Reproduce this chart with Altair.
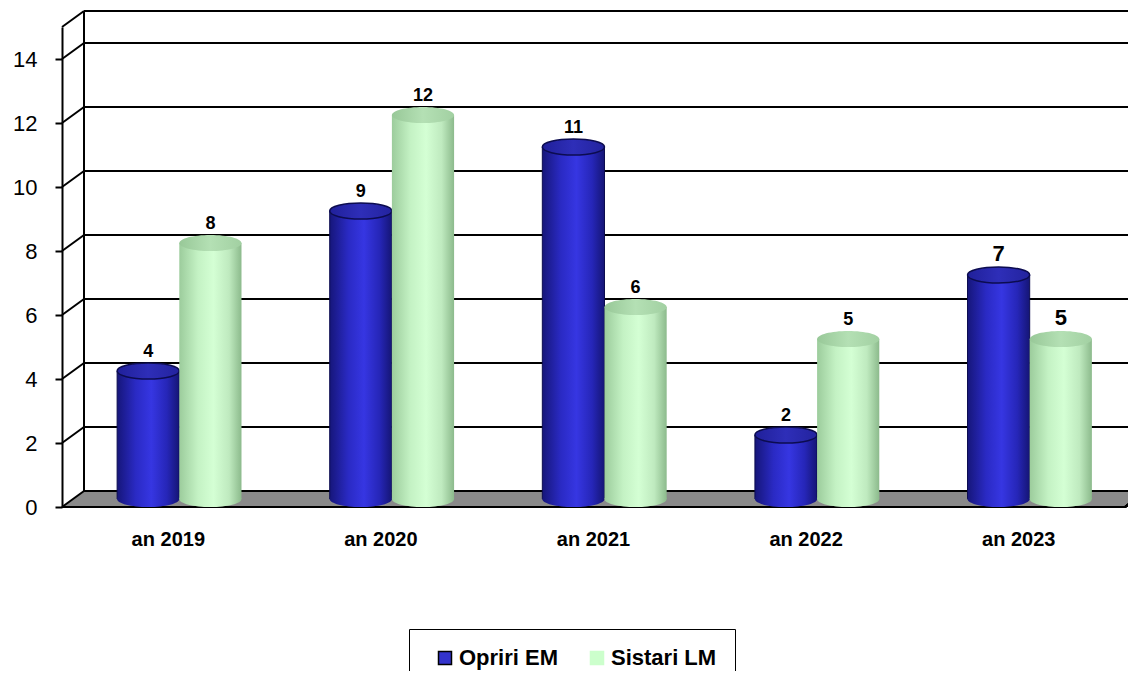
import altair as alt
import pandas as pd

# ---- data ----
years = ["an 2019", "an 2020", "an 2021", "an 2022", "an 2023"]
opriri = [4, 9, 11, 2, 7]
sistari = [8, 12, 6, 5, 5]
series = ["Opriri EM", "Sistari LM"]
y_ticks = [0, 2, 4, 6, 8, 10, 12, 14]
y_top = 15

# ---- layout constants ----
W, H = 1066, 480
FRONT_W = 1063
DX, DY = 22, 16           # 3D depth of the box
DY_UNITS = DY / (H / y_top)
FONT = "Liberation Sans, Arial, sans-serif"

df = pd.DataFrame({
    "year": years * 2,
    "series": [series[0]] * len(years) + [series[1]] * len(years),
    "value": opriri + sistari,
})
grid_df = pd.DataFrame({"level": y_ticks + [y_top]})
floor_df = pd.DataFrame({
    "fx": [0, DX, FRONT_W, FRONT_W + DX],
    "lo": [0, 0, 0, DY_UNITS],
    "hi": [0, DY_UNITS, DY_UNITS, DY_UNITS],
})

yscale = alt.Scale(domain=[0, y_top], nice=False, zero=True)
yaxis = alt.Axis(values=y_ticks, grid=False, domainColor="black", domainWidth=2,
                 tickColor="black", tickWidth=2, tickSize=7, labelFontSize=22,
                 labelFont=FONT, labelColor="black", labelPadding=18, title=None)


def Yf(field):
    return alt.Y(f"{field}:Q", scale=yscale, axis=yaxis, title=None)


def Yd(v):
    return alt.YDatum(v, scale=yscale, axis=yaxis, title=None, type="quantitative")


xscale = alt.Scale(domain=years, range=[DX / 2, FRONT_W + DX / 2],
                   paddingInner=0.415, paddingOuter=0.2075)
xaxis = alt.Axis(labelFontSize=20, labelFontWeight="bold", labelFont=FONT,
                 labelColor="black", domain=False, ticks=False, labelPadding=22,
                 labelOffset=-DX / 2, grid=False, labelAngle=0, title=None)
X_ENC = alt.X("year:N", scale=xscale, axis=xaxis, sort=years, title=None)
XOFF = alt.XOffset("series:N", scale=alt.Scale(domain=series, paddingInner=0, paddingOuter=0))


def grad(stops):
    return alt.LinearGradient(gradient="linear", x1=0, x2=1, y1=0, y2=0,
                              stops=[alt.GradientStop(color=c, offset=o) for c, o in stops])


blue_body = grad([("#16167a", 0), ("#2a2ac4", 0.3), ("#3636e2", 0.55), ("#2626b8", 0.8), ("#151575", 1)])
blue_top = grad([("#20209a", 0), ("#2e2eb8", 0.5), ("#23239e", 1)])
green_body = grad([("#9ccc9c", 0), ("#c4f2c4", 0.3), ("#d4ffd4", 0.55), ("#bfeabf", 0.8), ("#8cba8c", 1)])
green_top = grad([("#98c898", 0), ("#b4e0b4", 0.5), ("#a2d0a2", 1)])

# ellipse symbol (unit box -1..1)
ELL = "M-1,0A1,0.26,0,1,1,1,0A1,0.26,0,1,1,-1,0Z"
SUBW = (FRONT_W / 5) * (1 - 0.415) / 2
ESIZE = SUBW * SUBW

# ---- floor ----
floor = alt.Chart(floor_df).mark_area(color="#8a8a8a", orient="vertical").encode(
    x=alt.X("fx:Q", scale=alt.Scale(domain=[0, W], nice=False, zero=True), axis=None),
    y=Yf("lo"),
    y2=alt.Y2("hi"),
)

# ---- frame ----
back_lines = alt.Chart(grid_df).mark_rule(color="black", strokeWidth=2, yOffset=-DY).encode(
    y=Yf("level"), x=alt.value(DX), x2=alt.value(W))
diagonals = alt.Chart(grid_df).mark_rule(color="black", strokeWidth=2, y2Offset=-DY).encode(
    y=Yf("level"), y2=alt.Y2("level"), x=alt.value(0), x2=alt.value(DX))
back_vert = alt.Chart(grid_df).mark_rule(color="black", strokeWidth=2, yOffset=-DY, y2Offset=-DY).encode(
    y=Yd(0), y2=alt.Y2Datum(y_top), x=alt.value(DX))
front_edge = alt.Chart(grid_df).mark_rule(color="black", strokeWidth=2).encode(
    y=Yd(0), x=alt.value(0), x2=alt.value(FRONT_W))
right_slant = alt.Chart(grid_df).mark_rule(color="black", strokeWidth=2, y2Offset=-DY).encode(
    y=Yd(0), y2=alt.Y2Datum(0), x=alt.value(FRONT_W), x2=alt.value(FRONT_W + DX))

# ---- legend carrier (hidden behind bars) ----
leg = alt.Legend(title=" ", titleOrient="left", titleFontSize=1, titlePadding=7,
                 orient="none", legendX=409 - 62, legendY=629 - 27,
                 direction="horizontal", symbolType="square", symbolSize=169,
                 symbolStrokeWidth=1.5, symbolOpacity=1,
                 labelFontSize=22, labelFontWeight="bold", labelFont=FONT,
                 labelColor="black", labelOffset=3, columnPadding=27,
                 padding=18, strokeColor="black")
legend_layer = alt.Chart(df).mark_square(size=16, opacity=1, yOffset=-DY / 2).encode(
    x=X_ENC, xOffset=XOFF, y=Yd(0),
    color=alt.Color("series:N", scale=alt.Scale(domain=series, range=["#3333cc", "#ccffcc"]),
                    legend=leg),
    stroke=alt.Stroke("series:N", scale=alt.Scale(domain=series, range=["#000000", "#ccffcc"]),
                      legend=leg),
)


def cylinder(s, body, top, stroke):
    d = alt.Chart(df).transform_filter(alt.datum.series == s)
    if stroke:
        b = d.mark_bar(color=body, stroke=stroke, strokeWidth=1,
                       yOffset=-DY / 2, y2Offset=-DY / 2).encode(
            x=X_ENC, xOffset=XOFF, y=Yf("value"), y2=alt.Y2Datum(0))
        tp = d.mark_point(shape=ELL, size=ESIZE, filled=True, fill=top, opacity=1,
                          stroke=stroke, strokeWidth=1.5, yOffset=-DY / 2).encode(
            x=X_ENC, xOffset=XOFF, y=Yf("value"))
    else:
        b = d.mark_bar(color=body, yOffset=-DY / 2, y2Offset=-DY / 2).encode(
            x=X_ENC, xOffset=XOFF, y=Yf("value"), y2=alt.Y2Datum(0))
        tp = d.mark_point(shape=ELL, size=ESIZE, filled=True, fill=top, opacity=1,
                          strokeWidth=0, yOffset=-DY / 2).encode(
            x=X_ENC, xOffset=XOFF, y=Yf("value"))
    bottom = d.mark_point(shape=ELL, size=ESIZE, filled=True, fill=body, opacity=1,
                          strokeWidth=0, yOffset=-DY / 2).encode(
        x=X_ENC, xOffset=XOFF, y=Yd(0))
    return [b, bottom, tp]


labels = alt.Chart(df).mark_text(fontWeight="bold", font=FONT, color="black",
                                 baseline="alphabetic", dy=-14, yOffset=-DY / 2).encode(
    x=X_ENC, xOffset=XOFF, y=Yf("value"), text=alt.Text("value:Q"),
    size=alt.condition(alt.datum.year == years[-1], alt.value(22), alt.value(18)),
)

inner = alt.layer(
    back_lines, diagonals, back_vert, front_edge, right_slant, legend_layer,
    *cylinder(series[0], blue_body, blue_top, "#0c0c50"),
    *cylinder(series[1], green_body, green_top, None),
    labels,
)

chart = alt.layer(floor, inner).resolve_scale(x="independent").properties(
    width=W, height=H,
    padding={"left": 54, "top": 19, "right": 0, "bottom": 164},
    autosize=alt.AutoSizeParams(type="none"),
    background="white",
).configure_view(strokeWidth=0, stroke=None)

chart.save("out.html", embed_options={"renderer": "svg", "actions": False})
